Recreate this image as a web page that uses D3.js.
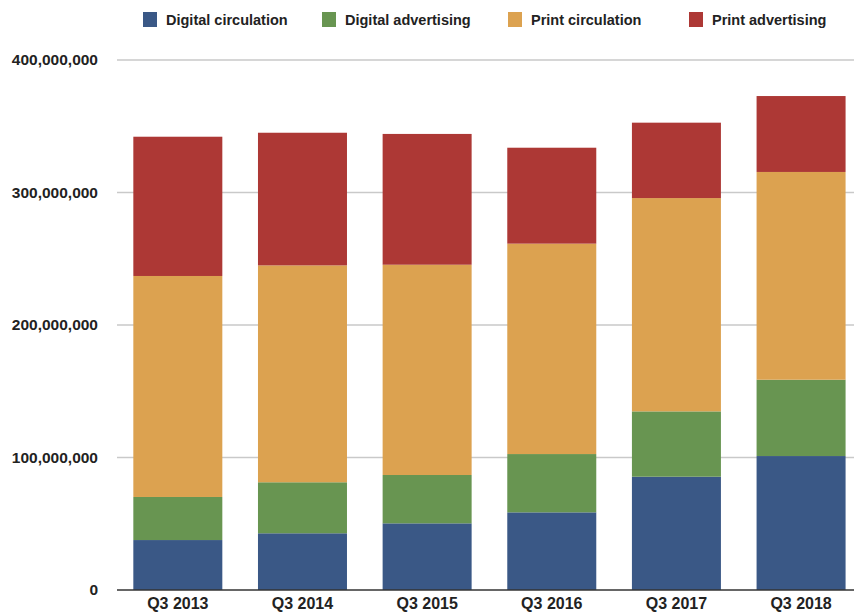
<!DOCTYPE html>
<html>
<head>
<meta charset="utf-8">
<script src="https://cdn.jsdelivr.net/npm/d3@7"></script>
<style>
  html, body { margin: 0; padding: 0; background: #fff; }
  svg { display: block; }
  text { font-family: "Liberation Sans", Arial, Helvetica, sans-serif; fill: #222; }
</style>
</head>
<body>
<svg id="chart" width="854" height="613"></svg>
<script>
// Quarterly revenue by source (USD)
const quarters = ["Q3 2013", "Q3 2014", "Q3 2015", "Q3 2016", "Q3 2017", "Q3 2018"];
const seriesNames = ["Digital circulation", "Digital advertising", "Print circulation", "Print advertising"];
const seriesColors = ["#3a5886", "#689551", "#dca250", "#ad3835"];

const digitalCirculation = [37700000, 42800000, 50300000, 58600000, 85500000, 101100000];
const digitalAdvertising = [32500000, 38500000, 36500000, 44000000, 49300000, 57600000];
const printCirculation   = [166800000, 163700000, 158700000, 158800000, 161000000, 156800000];
const printAdvertising   = [105100000, 100100000, 98700000, 72400000, 56900000, 57300000];

const yTicks = [0, 100000000, 200000000, 300000000, 400000000];

const seriesValues = [digitalCirculation, digitalAdvertising, printCirculation, printAdvertising];
const rows = quarters.map((q, i) => {
  const r = { quarter: q };
  seriesNames.forEach((s, j) => { r[s] = seriesValues[j][i]; });
  return r;
});

const svg = d3.select("#chart");

const x = d3.scaleBand()
  .domain(quarters)
  .range([115.5, 863.4])
  .paddingInner(0.286)
  .paddingOuter(0.143);

const y = d3.scaleLinear()
  .domain([0, 400000000])
  .range([590, 60]);

const fmt = d3.format(",");

// horizontal gridlines
svg.append("g")
  .selectAll("line")
  .data(yTicks.filter(d => d > 0))
  .join("line")
  .attr("x1", 117).attr("x2", 854)
  .attr("y1", d => y(d)).attr("y2", d => y(d))
  .attr("stroke", "#c9c9c9")
  .attr("stroke-width", 1.5);

// y-axis labels
const yAxis = d3.axisLeft(y).tickValues(yTicks).tickFormat(fmt).tickSize(0).tickPadding(0);
const yg = svg.append("g").attr("transform", "translate(98,0)").call(yAxis);
yg.select(".domain").remove();
yg.selectAll("text")
  .attr("font-size", "15.5px")
  .attr("font-weight", "bold")
  .attr("fill", "#222")
  .attr("font-family", "'Liberation Sans', Arial, sans-serif");

// stacked bars
const stack = d3.stack().keys(seriesNames);
const layers = stack(rows);

svg.append("g")
  .selectAll("g")
  .data(layers)
  .join("g")
  .attr("fill", (d, i) => seriesColors[i])
  .selectAll("rect")
  .data(d => d)
  .join("rect")
  .attr("x", d => x(d.data.quarter))
  .attr("width", x.bandwidth())
  .attr("y", d => y(d[1]))
  .attr("height", d => y(d[0]) - y(d[1]));

// baseline
svg.append("line")
  .attr("x1", 117).attr("x2", 854)
  .attr("y1", y(0)).attr("y2", y(0))
  .attr("stroke", "#333")
  .attr("stroke-width", 1.5);

// x-axis labels
const xAxis = d3.axisBottom(x).tickSize(0).tickPadding(0);
const xg = svg.append("g").attr("transform", "translate(0,598)").call(xAxis);
xg.select(".domain").remove();
xg.selectAll("text")
  .attr("font-size", "16px")
  .attr("font-weight", "bold")
  .attr("fill", "#222")
  .attr("dy", "0.71em")
  .attr("font-family", "'Liberation Sans', Arial, sans-serif");

// legend
const legendX = [143, 322, 508, 689];
const legend = svg.append("g")
  .selectAll("g")
  .data(seriesNames)
  .join("g")
  .attr("transform", (d, i) => `translate(${legendX[i]},12)`);
legend.append("rect")
  .attr("width", 14).attr("height", 15)
  .attr("fill", (d, i) => seriesColors[i]);
legend.append("text")
  .attr("x", 23).attr("y", 8)
  .attr("dy", "0.35em")
  .attr("font-size", "14.5px")
  .attr("font-weight", "bold")
  .text(d => d);
</script>
</body>
</html>
